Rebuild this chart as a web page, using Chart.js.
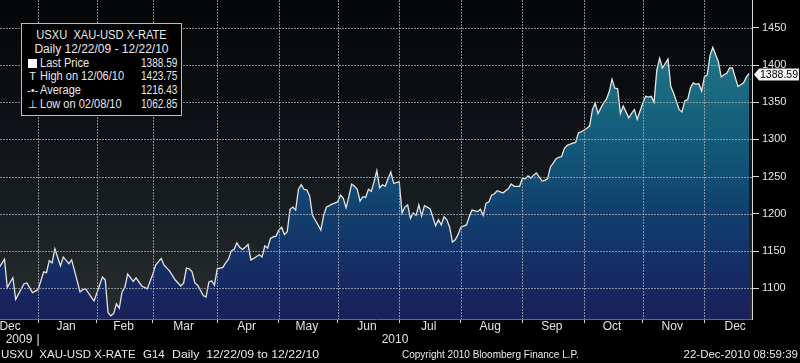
<!DOCTYPE html>
<html>
<head>
<meta charset="utf-8">
<script src="https://cdn.jsdelivr.net/npm/chart.js@4.4.1/dist/chart.umd.min.js"></script>
<style>
  html, body { margin: 0; padding: 0; background: #000; }
  body {
    width: 800px; height: 363px; overflow: hidden; position: relative;
    font-family: 'Liberation Sans', Arial, sans-serif;
    color: #e8e8e8;
  }
  #chart { position: absolute; left: 0; top: 0; }
  .legend {
    position: absolute; left: 21px; top: 23px; width: 161px; height: 93px;
    border: 1px solid #bdbdbd; background: #000; box-sizing: border-box;
    font-size: 12px; line-height: 13.8px; padding-top: 5px;
  }
  .legend .title { text-align: center; white-space: pre; }
  .legend .t1 { transform: scaleX(0.93); }
  .legend .row { position: relative; height: 13.8px; }
  .legend .ico { position: absolute; left: 5px; top: 0; width: 11px; text-align: center; font-size: 11px; white-space: pre; }
  .legend .lbl { position: absolute; left: 18px; top: 0; white-space: pre; transform: scaleX(0.92); transform-origin: left center; }
  .legend .val { position: absolute; right: 4px; top: 0; transform: scaleX(0.84); transform-origin: right center; }
  .sq { display: inline-block; width: 9px; height: 9px; background: #fff; margin-top: 2px; }
  .footer span { position: absolute; top: 347px; font-size: 11.5px; line-height: 14px; white-space: pre; }
</style>
</head>
<body>
<canvas id="chart" width="800" height="363"></canvas>

<div class="legend">
  <div class="title t1">USXU  XAU-USD X-RATE</div>
  <div class="title">Daily 12/22/09 - 12/22/10</div>
  <div class="row"><span class="ico"><span class="sq"></span></span><span class="lbl">Last Price</span><span class="val">1388.59</span></div>
  <div class="row"><span class="ico">T</span><span class="lbl">High on 12/06/10</span><span class="val">1423.75</span></div>
  <div class="row"><span class="ico">-&#x2022;-</span><span class="lbl">Average</span><span class="val">1216.43</span></div>
  <div class="row"><span class="ico">&#x22A5;</span><span class="lbl">Low on 02/08/10</span><span class="val">1062.85</span></div>
</div>

<div class="footer">
  <span style="left:1px">USXU  XAU-USD X-RATE</span>
  <span style="left:143px">G14</span>
  <span style="left:172px; transform:scaleX(1.07); transform-origin:left center">Daily  12/22/09 to 12/22/10</span>
  <span style="left:402px; transform:scaleX(0.87); transform-origin:left center">Copyright 2010 Bloomberg Finance L.P.</span>
  <span style="right:2px">22-Dec-2010 08:59:39</span>
</div>

<script>
// Trading-day number (0 = 12/22/09) and XAU-USD price
const days = [
  -6, -4, -3, -1, 0, 3, 4, 6, 8, 10, 11, 12, 13, 14, 16, 17, 19, 20, 23, 24,
  25, 27, 28, 31, 32, 33, 34, 35, 36, 37, 38, 39, 40, 42, 43, 45, 47, 49, 50, 52,
  53, 55, 57, 59, 60, 61, 62, 63, 64, 65, 67, 68, 69, 70, 71, 72, 74, 75, 76, 77,
  78, 79, 80, 81, 82, 83, 84, 85, 87, 88, 89, 90, 91, 92, 93, 94, 95, 96, 97, 98,
  99, 100, 101, 102, 103, 104, 105, 106, 108, 109, 110, 111, 113, 115, 116, 117, 118, 119, 120, 121,
  122, 123, 124, 125, 126, 127, 128, 129, 130, 131, 132, 133, 134, 135, 137, 138, 139, 140, 141, 142,
  143, 144, 145, 146, 147, 148, 150, 151, 152, 153, 154, 155, 156, 157, 158, 159, 161, 162, 163, 165,
  166, 167, 168, 169, 170, 171, 172, 174, 176, 177, 178, 180, 181, 182, 183, 184, 185, 186, 188, 189,
  190, 191, 192, 193, 194, 195, 196, 197, 199, 200, 201, 202, 204, 205, 206, 207, 208, 210, 211, 212,
  213, 214, 215, 216, 217, 219, 220, 221, 222, 224, 225, 226, 227, 228, 229, 230, 231, 233, 234, 235,
  237, 238, 239, 240, 241, 242, 243, 244, 245, 246, 247, 248, 249, 251, 252, 253, 254, 255, 256, 258,
  260, 261, 262
];
const prices = [
  1127, 1139, 1101, 1114, 1085, 1106, 1107, 1094, 1098, 1122, 1121, 1137, 1134, 1153, 1130, 1142, 1133, 1138, 1095, 1098,
  1099, 1088, 1083, 1115, 1111, 1067, 1062.85, 1066, 1079, 1073, 1095, 1101, 1119, 1109, 1114, 1103, 1099, 1119, 1131, 1140,
  1131, 1123, 1111, 1103, 1107, 1127, 1126, 1122, 1107, 1104, 1090, 1088, 1108, 1110, 1104, 1126, 1128, 1134, 1139, 1150,
  1152, 1161, 1155, 1152, 1155, 1159, 1138, 1140, 1145, 1142, 1157, 1154, 1167, 1169, 1170, 1178, 1182, 1172, 1176, 1206,
  1209, 1205, 1233, 1239, 1233, 1232, 1224, 1198, 1185, 1178, 1198, 1209, 1213, 1216, 1225, 1221, 1208, 1223, 1240, 1237,
  1233, 1217, 1223, 1222, 1233, 1230, 1243, 1258, 1235, 1239, 1237, 1247, 1256, 1241, 1243, 1201, 1209, 1212, 1194, 1201,
  1198, 1212, 1197, 1211, 1209, 1207, 1184, 1192, 1185, 1196, 1192, 1182, 1162, 1165, 1172, 1182, 1185, 1196, 1205, 1203,
  1206, 1198, 1214, 1216, 1225, 1227, 1231, 1228, 1234, 1240, 1237, 1237, 1248, 1247, 1251, 1248, 1252, 1255, 1244, 1245,
  1247, 1263, 1268, 1274, 1276, 1277, 1288, 1292, 1295, 1296, 1309, 1310, 1315, 1318, 1340, 1349, 1335, 1349, 1354, 1364,
  1381, 1369, 1368, 1335, 1345, 1329, 1335, 1340, 1327, 1349, 1358, 1357, 1358, 1350, 1393, 1409, 1396, 1408, 1371, 1362,
  1340, 1337, 1352, 1353, 1369, 1376, 1374, 1375, 1365, 1384, 1387, 1413, 1423.75, 1404, 1384, 1387, 1389, 1396, 1396, 1371,
  1376, 1384, 1388.59
];
const lastPrice = 1388.59;

// Month starts in trading days (Dec 2009 ... Jan 2011)
const monthNames = ['Dec', 'Jan', 'Feb', 'Mar', 'Apr', 'May', 'Jun', 'Jul', 'Aug', 'Sep', 'Oct', 'Nov', 'Dec'];
const monthStartDays = [-15, 8, 29, 49, 72, 94, 115, 137, 159, 181, 203, 224, 246, 269];
const yearLabels = ['2009', '2010'];
const yearStartDay = 8;
const yTicks = [1100, 1150, 1200, 1250, 1300, 1350, 1400, 1450];

const xMin = -5.6, xMax = 263;
const yMin = 1058.6, yMax = 1487.4;

const FONT = "'Liberation Sans', Arial, sans-serif";
const gridColor = 'rgba(165,170,175,0.8)';

// ticks on the x axis: boundaries carry tick marks, midpoints carry labels
const xTickInfo = new Map();
xTickInfo.set(xMin, { grid: false, label: '' });
xTickInfo.set(xMax, { grid: false, label: '' });
monthStartDays.forEach(d => {
    if (d > xMin && d < xMax) {
        xTickInfo.set(d, { grid: true, label: d === yearStartDay ? ['', '|'] : '' });
    }
});
monthNames.forEach((name, i) => {
    let mid = (monthStartDays[i] + monthStartDays[i + 1]) / 2 - 0.5;
    mid = Math.max(mid, xMin + 3.6);
    xTickInfo.set(mid, { grid: false, label: name });
});
xTickInfo.set((xMin + yearStartDay) / 2, { grid: false, label: ['', yearLabels[0]] });
xTickInfo.set((yearStartDay + xMax) / 2, { grid: false, label: ['', yearLabels[1]] });
const xTickValues = [...xTickInfo.keys()].sort((a, b) => a - b);

const points = days.map((d, i) => ({ x: d, y: prices[i] }));

// background of the plot area
const plotBackground = {
    id: 'plotBackground',
    beforeDraw(chart) {
        const { ctx, chartArea: a } = chart;
        ctx.save();
        ctx.fillStyle = '#000';
        ctx.fillRect(0, 0, chart.width, chart.height);
        const g = ctx.createLinearGradient(0, a.top, 0, a.bottom);
        g.addColorStop(0, '#040506');
        g.addColorStop(0.35, '#0d1014');
        g.addColorStop(0.7, '#1a2023');
        g.addColorStop(1, '#292d2f');
        ctx.fillStyle = g;
        ctx.fillRect(a.left, a.top, a.right - a.left, a.bottom - a.top);
        ctx.restore();
    }
};

// dotted grid at the y ticks and month starts, over the area fill
const dottedGrid = {
    id: 'dottedGrid',
    afterDatasetsDraw(chart) {
        const { ctx, chartArea: a, scales: { x, y } } = chart;
        ctx.save();
        ctx.lineWidth = 1;
        ctx.strokeStyle = gridColor;
        ctx.setLineDash([2, 1]);
        ctx.beginPath();
        yTicks.forEach(v => {
            const py = Math.round(y.getPixelForValue(v)) + 0.5;
            ctx.moveTo(a.left, py);
            ctx.lineTo(a.right, py);
        });
        monthStartDays.forEach(d => {
            if (d > xMin && d < xMax) {
                const px = Math.round(x.getPixelForValue(d)) + 0.5;
                ctx.moveTo(px, a.top);
                ctx.lineTo(px, a.bottom);
            }
        });
        ctx.stroke();
        ctx.restore();
    }
};

// last price tag on the right axis
const priceTag = {
    id: 'priceTag',
    afterDraw(chart) {
        const { ctx, chartArea: a } = chart;
        const y = Math.round(chart.scales.y.getPixelForValue(lastPrice)) + 0.5;
        const x0 = a.right + 2;
        ctx.save();
        ctx.beginPath();
        ctx.moveTo(x0, y);
        ctx.lineTo(x0 + 5, y - 6);
        ctx.lineTo(799, y - 6);
        ctx.lineTo(799, y + 6);
        ctx.lineTo(x0 + 5, y + 6);
        ctx.closePath();
        ctx.fillStyle = '#f4f4f4';
        ctx.fill();
        ctx.fillStyle = '#000';
        ctx.font = '11px ' + FONT;
        ctx.textBaseline = 'middle';
        ctx.textAlign = 'left';
        ctx.fillText(lastPrice.toFixed(2), x0 + 6, y + 0.5, 38);
        ctx.restore();
    }
};

new Chart(document.getElementById('chart'), {
    type: 'line',
    data: {
        datasets: [{
            data: points,
            borderColor: '#e4e4e4',
            borderWidth: 1.3,
            pointRadius: 0,
            tension: 0,
            fill: 'start',
            backgroundColor: function(context) {
                const { ctx, chartArea: a } = context.chart;
                if (!a) return '#144a72';
                const g = ctx.createLinearGradient(0, a.top, 0, a.bottom);
                g.addColorStop(0, '#2e8796');
                g.addColorStop(0.2, '#1e7183');
                g.addColorStop(0.44, '#125b7a');
                g.addColorStop(0.67, '#113f6e');
                g.addColorStop(0.9, '#172762');
                g.addColorStop(1, '#1a2058');
                return g;
            }
        }]
    },
    options: {
        responsive: false,
        animation: false,
        devicePixelRatio: 1,
        layout: { padding: 0 },
        plugins: { legend: { display: false }, tooltip: { enabled: false } },
        scales: {
            x: {
                type: 'linear',
                min: xMin,
                max: xMax,
                afterBuildTicks: scale => { scale.ticks = xTickValues.map(v => ({ value: v })); },
                afterFit: scale => {
                    scale.height = 44;
                    scale.paddingLeft = 0;
                    scale.paddingRight = 0;
                },
                grid: {
                    drawOnChartArea: false,
                    tickColor: c => (c.tick && xTickInfo.get(c.tick.value) && xTickInfo.get(c.tick.value).grid) ? '#d0d0d0' : 'rgba(0,0,0,0)',
                    tickLength: 4
                },
                border: { display: true, color: '#6a6a6a' },
                ticks: {
                    autoSkip: false,
                    maxRotation: 0,
                    padding: -3,
                    color: '#e2e2e2',
                    font: { family: FONT, size: 12, lineHeight: 1.1 },
                    callback: value => {
                        const info = xTickInfo.get(value);
                        return info ? info.label : '';
                    }
                }
            },
            y: {
                position: 'right',
                min: yMin,
                max: yMax,
                afterBuildTicks: scale => { scale.ticks = yTicks.map(v => ({ value: v })); },
                afterFit: scale => {
                    scale.width = 48;
                    scale.paddingTop = 0;
                    scale.paddingBottom = 0;
                },
                grid: {
                    drawOnChartArea: false,
                    tickColor: '#d8d8d8',
                    tickLength: 7
                },
                border: { display: true, color: '#d8d8d8', width: 1 },
                ticks: {
                    padding: 3,
                    color: '#e6e6e6',
                    font: { family: FONT, size: 11 },
                    callback: value => String(value)
                }
            }
        }
    },
    plugins: [plotBackground, dottedGrid, priceTag]
});
</script>
</body>
</html>
